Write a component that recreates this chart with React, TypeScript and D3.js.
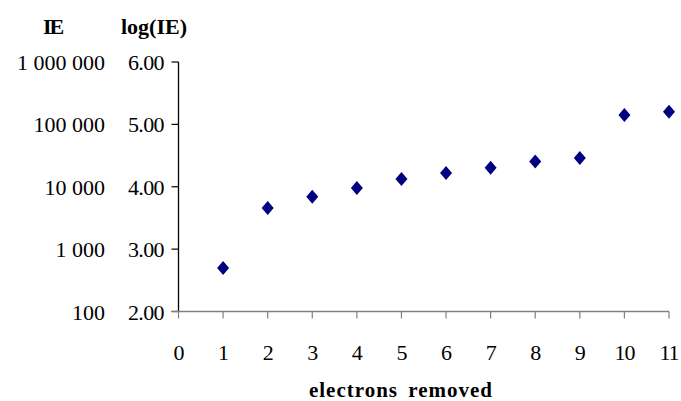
import React from "react";
import * as d3 from "d3";

const electronsRemoved = [1, 2, 3, 4, 5, 6, 7, 8, 9, 10, 11];
const ionizationEnergy = [496, 4562, 6910, 9543, 13354, 16613, 20117, 25496, 28932, 141362, 159075];
const xTicks = [0, 1, 2, 3, 4, 5, 6, 7, 8, 9, 10, 11];
const logTicks = [2, 3, 4, 5, 6];
const ieTickValues = [100, 1000, 10000, 100000, 1000000];

const W = 681;
const H = 401;

export default function App() {
  const x = d3.scaleLinear().domain([0, 11]).range([178.5, 669]);
  const y = d3.scaleLinear().domain([2, 6]).range([311.5, 62]);
  const loc = d3.formatLocale({ decimal: ".", thousands: " ", grouping: [3], currency: ["", ""] });
  const fmtIE = loc.format(",d");
  const fmtLog = d3.format(".2f");
  const font = "'Liberation Serif', 'Times New Roman', serif";

  const diamond = (cx: number, cy: number) => {
    const p = d3.path();
    p.moveTo(cx, cy - 7);
    p.lineTo(cx + 6, cy);
    p.lineTo(cx, cy + 7);
    p.lineTo(cx - 6, cy);
    p.closePath();
    return p.toString();
  };

  return (
    <svg width={W} height={H} style={{ position: "absolute", left: 0, top: 0, background: "#fff" }} fontFamily={font}>
      <rect x={0} y={0} width={W} height={H} fill="#fff" />
      {/* header labels */}
      <text x={52.5} y={34} textAnchor="middle" fontSize={22} fontWeight="bold" letterSpacing={-2}>IE</text>
      <text x={154} y={34} textAnchor="middle" fontSize={22} fontWeight="bold">log(IE)</text>

      {/* y axis */}
      <line x1={x(0)} x2={x(0)} y1={y(6)} y2={y(2)} stroke="#000" strokeWidth={1.3} />
      {logTicks.map((t, i) => (
        <g key={t}>
          <line x1={x(0) - 7} x2={x(0)} y1={y(t)} y2={y(t)} stroke="#000" strokeWidth={1.2} />
          <text x={164} y={y(t) + 8} textAnchor="end" fontSize={22} letterSpacing={-0.6}>{fmtLog(t)}</text>
          <text x={105} y={y(t) + 8} textAnchor="end" fontSize={22}>{fmtIE(ieTickValues[i])}</text>
        </g>
      ))}

      {/* x axis */}
      <line x1={x(0) - 7} x2={x(11)} y1={y(2)} y2={y(2)} stroke="#808080" strokeWidth={1.5} />
      {xTicks.map((t) => (
        <g key={t}>
          <line x1={x(t)} x2={x(t)} y1={y(2)} y2={y(2) + 7} stroke="#808080" strokeWidth={1.2} />
          <text x={x(t)} y={360} textAnchor="middle" fontSize={22} letterSpacing={-1}>{t}</text>
        </g>
      ))}
      <text x={401} y={397} textAnchor="middle" fontSize={21} fontWeight="bold" letterSpacing={1} wordSpacing={4}>electrons removed</text>

      {/* points */}
      {electronsRemoved.map((e, i) => (
        <path key={e} d={diamond(x(e), y(Math.log10(ionizationEnergy[i])))} fill="#000080" />
      ))}
    </svg>
  );
}
